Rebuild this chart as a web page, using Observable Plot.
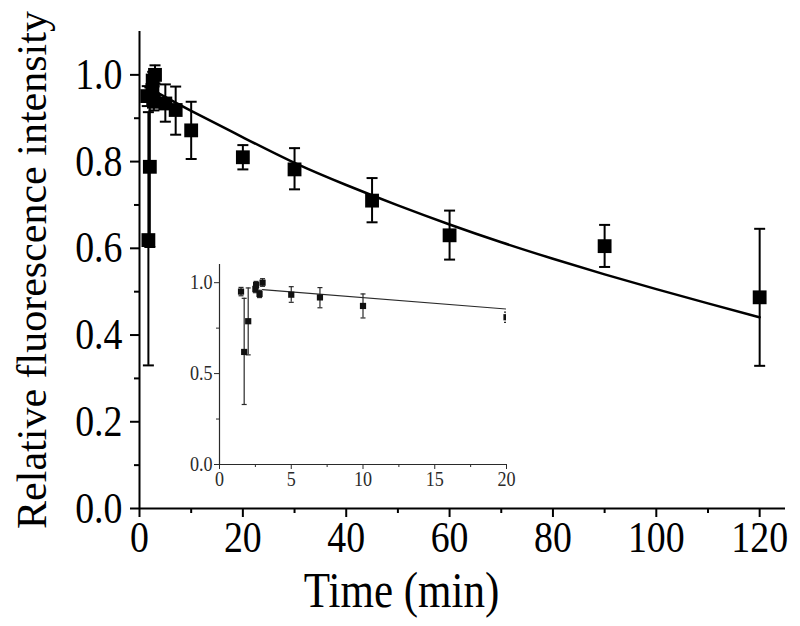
<!DOCTYPE html>
<html><head><meta charset="utf-8">
<script src="https://cdn.jsdelivr.net/npm/d3@7"></script>
<script src="https://cdn.jsdelivr.net/npm/@observablehq/plot@0.6"></script>
<style>
body{margin:0;background:#fff;}
#wrap{position:relative;width:800px;height:626px;overflow:hidden;}
#inset{position:absolute;left:174px;top:256px;}
</style></head><body><div id="wrap"><div id="main"></div><div id="inset"></div></div>
<script>
// Measured data (time in min, relative fluorescence intensity, error bar limits)
const times   = [1.5, 1.72, 2, 2.5, 2.55, 2.79, 3, 5, 7, 10, 20, 30, 45, 60, 90, 120];
const values  = [0.951, 0.619, 0.788, 0.965, 0.987, 0.938, 1.0, 0.934, 0.919, 0.872, 0.810, 0.782, 0.710, 0.630, 0.605, 0.487];
const errLow  = [0.928, 0.330, 0.603, 0.945, 0.967, 0.918, 0.980, 0.892, 0.862, 0.806, 0.782, 0.736, 0.660, 0.574, 0.557, 0.329];
const errHigh = [0.974, 0.914, 0.971, 0.985, 1.007, 0.958, 1.022, 0.978, 0.973, 0.938, 0.838, 0.831, 0.762, 0.687, 0.654, 0.645];

// Fitted curve (main panel)
const curveT = [3, 10, 20, 30, 40, 50, 60, 70, 80, 90, 100, 110, 120];
const curveV = [0.962, 0.917, 0.856, 0.797, 0.746, 0.699, 0.655, 0.614, 0.576, 0.540, 0.506, 0.473, 0.441];

// Fitted curve (inset)
const insetCurveT = [3, 20];
const insetCurveV = [0.962, 0.855];

// Tick values and labels
const xMajor = [0, 20, 40, 60, 80, 100, 120];
const xMinor = [10, 30, 50, 70, 90, 110];
const yMajor = [0, 0.2, 0.4, 0.6, 0.8, 1.0];
const yMinor = [0.1, 0.3, 0.5, 0.7, 0.9];
const insetXMajor = [0, 5, 10, 15, 20];
const insetXMinor = [2.5, 7.5, 12.5, 17.5];
const insetYMajor = [0, 0.5, 1.0];
const insetYMinor = [0.25, 0.75];
const xLabel = "Time (min)";
const yLabel = "Relative fluorescence intensity";

const data = times.map((t, i) => ({t, v: values[i], lo: errLow[i], hi: errHigh[i]}));
const curve = curveT.map((t, i) => ({t, v: curveV[i]}));
const insetCurve = insetCurveT.map((t, i) => ({t, v: insetCurveV[i]}));
const insetData = data.filter(d => d.t <= 20);

const capSymbol = {draw(ctx, size) { const w = Math.sqrt(size / Math.PI); ctx.moveTo(-w, 0); ctx.lineTo(w, 0); }};
const font = "'Liberation Serif','Times New Roman',serif";
const fmt1 = d3.format(".1f");

const main = Plot.plot({
  width: 800, height: 626,
  marginLeft: 139, marginRight: 15, marginTop: 31, marginBottom: 118,
  style: {fontFamily: font, background: "white", color: "black"},
  x: {domain: [0, 125]},
  y: {domain: [0, 1.1]},
  marks: [
    Plot.axisX({ticks: xMajor, tickSize: 9, tickPadding: 3, fontSize: 44, tickFormat: d => String(d), strokeWidth: 2, label: null}),
    Plot.axisX({ticks: xMinor, tickSize: 5, fill: "none", strokeWidth: 2, label: null}),
    Plot.axisY({ticks: yMajor, tickSize: 9, tickPadding: 8, fontSize: 44, tickFormat: fmt1, strokeWidth: 2, label: null}),
    Plot.axisY({ticks: yMinor, tickSize: 5, fill: "none", strokeWidth: 2, label: null}),
    Plot.ruleX([0], {strokeWidth: 2}),
    Plot.ruleY([0], {strokeWidth: 2}),
    Plot.line(curve, {x: "t", y: "v", strokeWidth: 2.5, curve: "natural"}),
    Plot.ruleX(data, {x: "t", y1: "lo", y2: "hi", strokeWidth: 2}),
    Plot.dot(data, {x: "t", y: "hi", symbol: capSymbol, r: 5.5, fill: "none", stroke: "black", strokeWidth: 2}),
    Plot.dot(data, {x: "t", y: "lo", symbol: capSymbol, r: 5.5, fill: "none", stroke: "black", strokeWidth: 2}),
    Plot.dot(data, {x: "t", y: "v", symbol: "square", r: 7.8, fill: "black", stroke: "none"}),
    Plot.text([xLabel], {frameAnchor: "bottom", dx: -61, dy: 82, fontSize: 50, fill: "black", textAnchor: "middle", lineAnchor: "middle"})
  ]
});
document.getElementById("main").appendChild(main);

// Condense glyphs horizontally (the reference uses tall, narrow lettering)
function condense(svg, factor) {
  svg.querySelectorAll("text").forEach(t => {
    const len = t.getComputedTextLength();
    if (len > 0) {
      t.setAttribute("textLength", (len * factor).toFixed(1));
      t.setAttribute("lengthAdjust", "spacingAndGlyphs");
    }
  });
}
condense(main, 0.86);

// Y-axis title (added after condensing, kept at natural width)
const yTitle = document.createElementNS("http://www.w3.org/2000/svg", "text");
yTitle.textContent = yLabel;
yTitle.setAttribute("transform", "translate(31,270) rotate(-90)");
yTitle.setAttribute("text-anchor", "middle");
yTitle.setAttribute("dy", "0.35em");
yTitle.setAttribute("font-size", "42");
yTitle.setAttribute("fill", "black");
main.appendChild(yTitle);

const ink = "#2a2a2a";
const inset = Plot.plot({
  width: 347, height: 243,
  marginLeft: 45, marginRight: 15, marginTop: 8, marginBottom: 35,
  style: {fontFamily: font, background: "transparent", color: ink, overflow: "visible"},
  x: {domain: [0, 20]},
  y: {domain: [0, 1.1]},
  marks: [
    Plot.axisX({ticks: insetXMajor, tickSize: 5, tickPadding: 2, fontSize: 21, tickFormat: d => String(d), label: null, stroke: ink, fill: ink}),
    Plot.axisX({ticks: insetXMinor, tickSize: 3, fill: "none", label: null, stroke: ink}),
    Plot.axisY({ticks: insetYMajor, tickSize: 5, tickPadding: 2, fontSize: 21, tickFormat: fmt1, label: null, stroke: ink, fill: ink}),
    Plot.axisY({ticks: insetYMinor, tickSize: 3, fill: "none", label: null, stroke: ink}),
    Plot.ruleX([0], {stroke: ink, strokeWidth: 1.2}),
    Plot.ruleY([0], {stroke: ink, strokeWidth: 1.2}),
    Plot.line(insetCurve, {x: "t", y: "v", stroke: ink, strokeWidth: 1.2, clip: true}),
    Plot.ruleX(insetData, {x: "t", y1: "lo", y2: "hi", stroke: ink, strokeWidth: 1.2, clip: true}),
    Plot.dot(insetData, {x: "t", y: "hi", symbol: capSymbol, r: 2.5, fill: "none", stroke: ink, strokeWidth: 1.2, clip: true}),
    Plot.dot(insetData, {x: "t", y: "lo", symbol: capSymbol, r: 2.5, fill: "none", stroke: ink, strokeWidth: 1.2, clip: true}),
    Plot.dot(insetData, {x: "t", y: "v", symbol: "square", r: 3.5, fill: "#111", stroke: "none", clip: true})
  ]
});
document.getElementById("inset").appendChild(inset);
condense(inset, 0.86);
</script>
</body></html>
